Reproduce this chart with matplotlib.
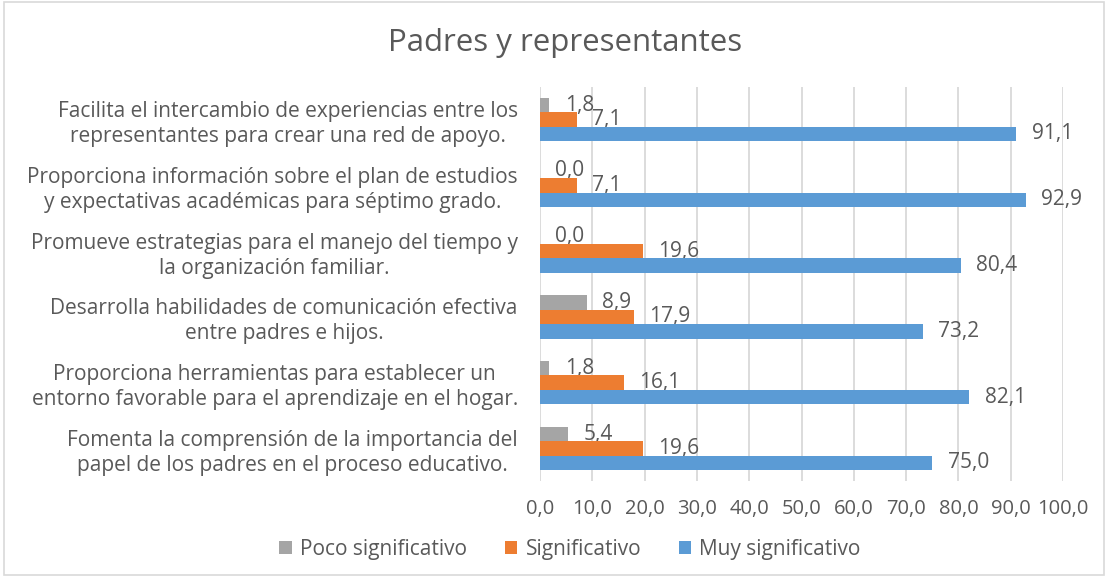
import matplotlib.pyplot as plt
from matplotlib.patches import Rectangle
import numpy as np

# Data (top to bottom as shown)
categories = [
    "Facilita el intercambio de experiencias entre los\nrepresentantes para crear una red de apoyo.",
    "Proporciona información sobre el plan de estudios\ny expectativas académicas para séptimo grado.",
    "Promueve estrategias para el manejo del tiempo y\nla organización familiar.",
    "Desarrolla habilidades de comunicación efectiva\nentre padres e hijos.",
    "Proporciona herramientas para establecer un\nentorno favorable para el aprendizaje en el hogar.",
    "Fomenta la comprensión de la importancia del\npapel de los padres en el proceso educativo.",
]
poco = [1.8, 0.0, 0.0, 8.9, 1.8, 5.4]
significativo = [7.1, 7.1, 19.6, 17.9, 16.1, 19.6]
muy = [91.1, 92.9, 80.4, 73.2, 82.1, 75.0]
series_names = ["Poco significativo", "Significativo", "Muy significativo"]
colors = ["#A5A5A5", "#ED7D31", "#5B9BD5"]
xticks = np.arange(0, 101, 10)

plt.rcParams['font.family'] = ['Open Sans', 'DejaVu Sans']
text_color = "#595959"

fig = plt.figure(figsize=(11.07, 5.77), dpi=100)
ax = fig.add_axes([0.4878, 0.1657, 0.4725, 0.6842])

y = np.arange(len(categories))
h = 0.22
for i, (vals, name, c) in enumerate(zip([poco, significativo, muy], series_names, colors)):
    bars = ax.barh(y + (i - 1) * h, vals, height=h, color=c, label=name, zorder=3)
    labels = [f"{v:.1f}".replace(".", ",") for v in vals]
    ax.bar_label(bars, labels=labels, padding=11, fontsize=15, color=text_color)

ax.set_xlim(0, 100)
ax.set_ylim(len(categories) - 0.5, -0.5)
ax.set_xticks(xticks)
ax.set_xticklabels([f"{t:.1f}".replace(".", ",") for t in xticks], fontsize=14.5, color=text_color)
ax.set_yticks(y)
ax.set_yticklabels(categories, fontsize=15, color=text_color, multialignment='center',
                   linespacing=1.25)
ax.tick_params(axis='both', length=0)
ax.tick_params(axis='y', pad=16)
ax.tick_params(axis='x', pad=13)
ax.grid(axis='x', color='#D9D9D9', linewidth=1.3, zorder=0)
for s in ax.spines.values():
    s.set_visible(False)

fig.text(0.51, 0.925, "Padres y representantes", ha='center', va='center',
         fontsize=22.5, color=text_color)

handles, lbls = ax.get_legend_handles_labels()
fig.legend(handles, lbls, loc='center', bbox_to_anchor=(0.515, 0.048), ncol=3,
           frameon=False, fontsize=15, labelcolor=text_color,
           handlelength=0.6, handleheight=0.6, handletextpad=0.4, columnspacing=1.8)

fig.patches.append(Rectangle((0.004, 0.003), 0.993, 0.993, transform=fig.transFigure,
                             fill=False, edgecolor='#D9D9D9', linewidth=1.2))

fig.savefig("out.png", dpi=100)
